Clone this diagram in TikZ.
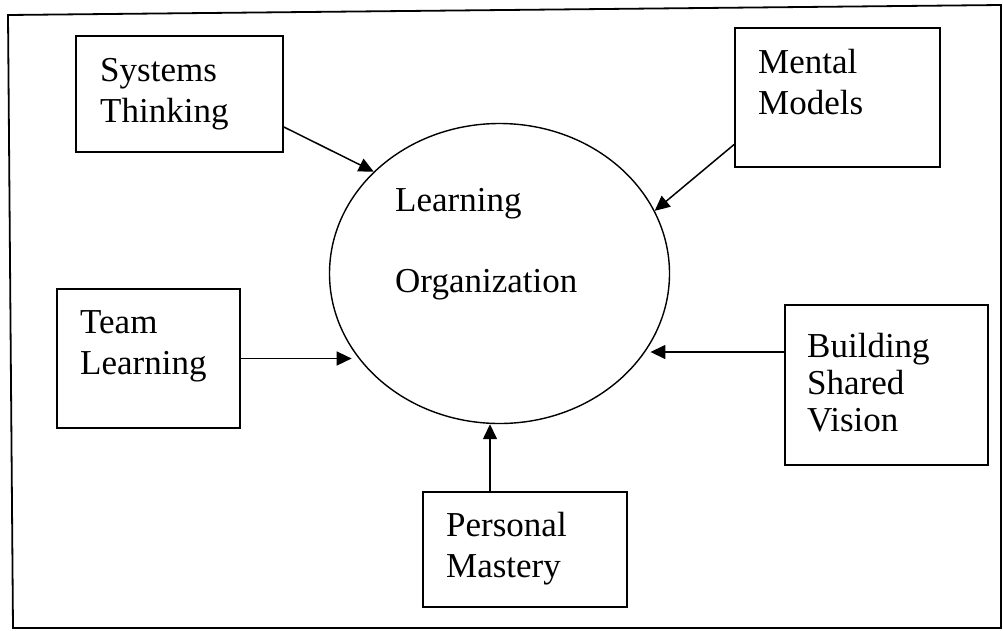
\documentclass[tikz,border=0pt]{standalone}
\usepackage{fontspec}
\setmainfont{Liberation Serif}
\usetikzlibrary{arrows.meta,shapes.geometric}
\begin{document}
\begin{tikzpicture}[x=1pt,y=-1pt,
  box/.style={draw, line width=1.8pt, rectangle, inner sep=0pt},
  lbl/.style={anchor=north west, align=left, inner sep=0pt, font=\fontsize{35}{41}\selectfont},
  arr/.style={line width=1.5pt, -{Triangle[length=15pt,width=14pt]}}]
\useasboundingbox (0,0) rectangle (1003,630);
\draw[line width=1.8pt] (8,15) -- (1001,5) -- (1001,628) -- (13,628) -- cycle;
% central ellipse
\node[draw, ellipse, line width=1.4pt, minimum width=340pt, minimum height=300pt, inner sep=0pt] (lo) at (499.5,273.5) {};
\node[lbl, font=\fontsize{35}{81}\selectfont] (lot) at (395,188) {Learning\\Organization};
% boxes
\node[box, minimum width=207pt, minimum height=116pt] (st) at (179.5,94) {};
\node[lbl] (stt) at (100,58) {Systems\\Thinking};
\node[box, minimum width=205pt, minimum height=139pt] (mm) at (837.5,97.5) {};
\node[lbl] (mmt) at (758,49) {Mental\\Models};
\node[box, minimum width=183pt, minimum height=139pt] (tl) at (148.5,358.5) {};
\node[lbl] (tlt) at (80,310) {Team\\Learning};
\node[box, minimum width=203pt, minimum height=160pt] (bsv) at (886.5,385) {};
\node[lbl, font=\fontsize{35}{37}\selectfont] (bsvt) at (807,333) {Building\\Shared\\Vision};
\node[box, minimum width=204pt, minimum height=115pt] (pm) at (525,549.5) {};
\node[lbl] (pmt) at (446,512) {Personal\\Mastery};
% arrows
\draw[arr] ([yshift=-33pt]st.east) -- (lo.141);
\draw[arr] ([yshift=-47pt]mm.west) -- (lo.22);
\draw[arr] (tl.east) -- (tl.east -| lo.207);
\draw[arr] ([yshift=33pt]bsv.west) -- ([yshift=33pt]bsv.west -| lo.335);
\draw[arr] ([xshift=-35pt]pm.north) -- ([xshift=-35pt]pm.north |- lo.south);
\end{tikzpicture}
\end{document}
